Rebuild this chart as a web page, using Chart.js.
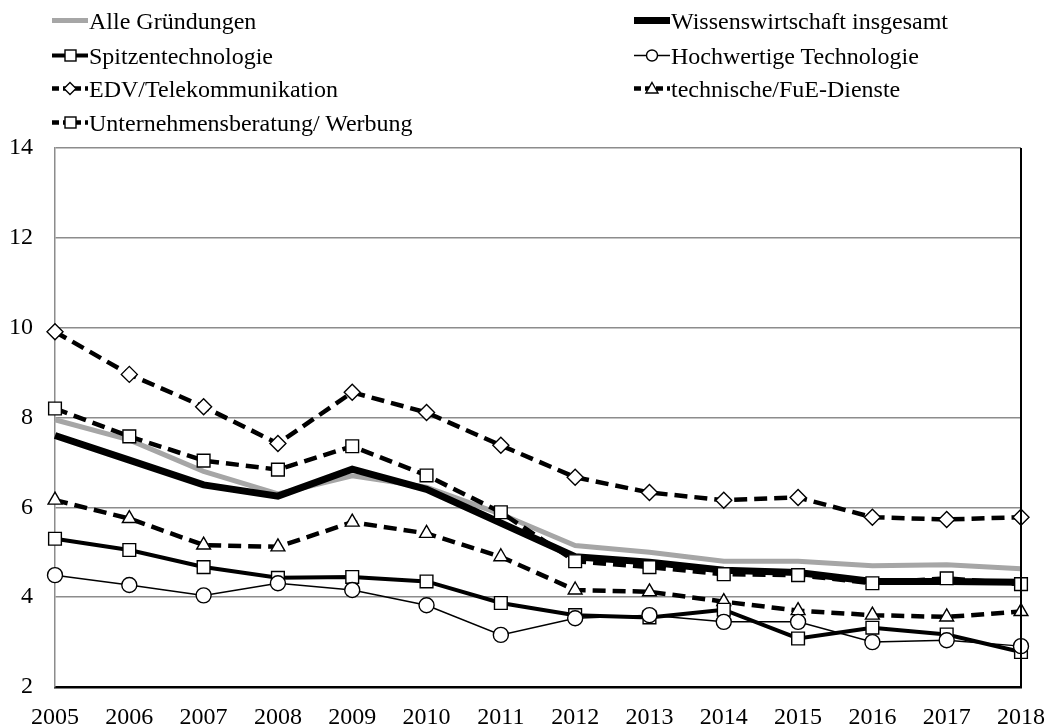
<!DOCTYPE html>
<html>
<head>
<meta charset="utf-8">
<script src="https://cdn.jsdelivr.net/npm/chart.js@4.4.0/dist/chart.umd.min.js"></script>
<style>
  html, body { margin: 0; padding: 0; background: #fff; }
  #wrap { position: relative; width: 1047px; height: 728px; font-family: "Liberation Serif", "Times New Roman", serif; }
  #c { position: absolute; left: 0; top: 0; }
  .leg { position: absolute; font-size: 24px; color: #000; white-space: nowrap; line-height: 26px; }
  .leg svg { position: absolute; top: 3px; }
  .leg span { position: absolute; top: 0; }
</style>
</head>
<body>
<div id="wrap">
  <canvas id="c" width="1047" height="728"></canvas>
  <div id="legend"></div>
</div>
<script>
// Jahre (x-Achse)
const years = ['2005','2006','2007','2008','2009','2010','2011','2012','2013','2014','2015','2016','2017','2018'];
const yTicks = [2, 4, 6, 8, 10, 12, 14];

// Werte
const alleGruendungen   = [7.95, 7.5, 6.8, 6.3, 6.7, 6.45, 5.85, 5.15, 5.0, 4.8, 4.8, 4.7, 4.72, 4.63];
const wissenswirtschaft = [7.6, 7.05, 6.5, 6.25, 6.85, 6.4, 5.65, 4.9, 4.78, 4.6, 4.55, 4.35, 4.35, 4.33];
const spitzentech       = [5.3, 5.05, 4.67, 4.43, 4.45, 4.35, 3.87, 3.6, 3.55, 3.72, 3.08, 3.32, 3.17, 2.78];
const hochwertigeTech   = [4.49, 4.27, 4.04, 4.31, 4.16, 3.82, 3.16, 3.53, 3.6, 3.45, 3.45, 3.0, 3.04, 2.91];
const edvTelekom        = [9.91, 8.96, 8.24, 7.42, 8.56, 8.11, 7.38, 6.67, 6.33, 6.16, 6.22, 5.78, 5.73, 5.78];
const technFuE          = [6.16, 5.75, 5.16, 5.12, 5.67, 5.42, 4.9, 4.16, 4.12, 3.9, 3.7, 3.6, 3.56, 3.68];
const beratungWerbung   = [8.2, 7.58, 7.04, 6.84, 7.36, 6.71, 5.89, 4.8, 4.67, 4.51, 4.49, 4.31, 4.42, 4.29];

const DASH = [13, 7];

// --- Legende als HTML ---
const legendItems = [
  { label: 'Alle Gründungen', col: 0, row: 0, color: '#a6a6a6', width: 5, dash: null, marker: null },
  { label: 'Wissenswirtschaft insgesamt', col: 1, row: 0, color: '#000', width: 7, dash: null, marker: null },
  { label: 'Spitzentechnologie', col: 0, row: 1, color: '#000', width: 4, dash: null, marker: 'rect' },
  { label: 'Hochwertige Technologie', col: 1, row: 1, color: '#000', width: 1.5, dash: null, marker: 'circle' },
  { label: 'EDV/Telekommunikation', col: 0, row: 2, color: '#000', width: 4.5, dash: '7 4', marker: 'diamond' },
  { label: 'technische/FuE-Dienste', col: 1, row: 2, color: '#000', width: 4.5, dash: '7 4', marker: 'triangle' },
  { label: 'Unternehmensberatung/ Werbung', col: 0, row: 3, color: '#000', width: 4.5, dash: '7 4', marker: 'rect' }
];

function markerSvg(m) {
  if (m === 'rect') return '<rect x="13" y="4" width="11" height="11" fill="#fff" stroke="#000" stroke-width="1.4"/>';
  if (m === 'circle') return '<circle cx="18" cy="9.5" r="5.5" fill="#fff" stroke="#000" stroke-width="1.4"/>';
  if (m === 'diamond') return '<polygon points="18,3.5 24,9.5 18,15.5 12,9.5" fill="#fff" stroke="#000" stroke-width="1.4"/>';
  if (m === 'triangle') return '<polygon points="18,3.5 24,14 12,14" fill="#fff" stroke="#000" stroke-width="1.4"/>';
  return '';
}

const legendEl = document.getElementById('legend');
const colX = [52, 634];
const rowY = [8, 43, 76, 110];
legendItems.forEach(it => {
  const d = document.createElement('div');
  d.className = 'leg';
  d.style.left = colX[it.col] + 'px';
  d.style.top = rowY[it.row] + 'px';
  const dash = it.dash ? ' stroke-dasharray="' + it.dash + '"' : '';
  d.innerHTML =
    '<svg width="36" height="19" style="left:0">' +
    '<line x1="0" y1="9.5" x2="36" y2="9.5" stroke="' + it.color + '" stroke-width="' + it.width + '"' + dash + '/>' +
    markerSvg(it.marker) + '</svg>' +
    '<span style="left:37px">' + it.label + '</span>';
  legendEl.appendChild(d);
});

// Rahmen rechts (schwarze Linie)
const rightBorder = {
  id: 'rightBorder',
  afterDraw(chart) {
    const a = chart.chartArea, ctx = chart.ctx;
    ctx.save();
    ctx.strokeStyle = '#000';
    ctx.lineWidth = 2;
    ctx.beginPath();
    ctx.moveTo(a.right, a.top);
    ctx.lineTo(a.right, a.bottom);
    ctx.stroke();
    ctx.restore();
  }
};

function ds(label, data, opts) {
  return Object.assign({
    label: label,
    data: data,
    borderColor: '#000',
    backgroundColor: '#fff',
    pointBackgroundColor: '#fff',
    pointBorderColor: '#000',
    pointBorderWidth: 1.4,
    pointRadius: 0,
    tension: 0,
    fill: false
  }, opts);
}

const ctx = document.getElementById('c').getContext('2d');
new Chart(ctx, {
  type: 'line',
  data: {
    labels: years,
    datasets: [
      ds('Hochwertige Technologie', hochwertigeTech, { borderWidth: 1.5, pointStyle: 'circle', pointRadius: 7.5 }),
      ds('Spitzentechnologie', spitzentech, { borderWidth: 4, pointStyle: 'rect', pointRadius: 9 }),
      ds('technische/FuE-Dienste', technFuE, { borderWidth: 4.5, borderDash: DASH, pointStyle: 'triangle', pointRadius: 8 }),
      ds('EDV/Telekommunikation', edvTelekom, { borderWidth: 4.5, borderDash: DASH, pointStyle: 'rectRot', pointRadius: 8 }),
      ds('Unternehmensberatung/ Werbung', beratungWerbung, { borderWidth: 4.5, borderDash: DASH, pointStyle: 'rect', pointRadius: 9 }),
      ds('Wissenswirtschaft insgesamt', wissenswirtschaft, { borderWidth: 7 }),
      ds('Alle Gründungen', alleGruendungen, { borderColor: '#a6a6a6', borderWidth: 5 })
    ]
  },
  options: {
    responsive: false,
    animation: false,
    layout: { padding: { top: 148, left: 0, right: 26, bottom: 0 } },
    plugins: { legend: { display: false }, tooltip: { enabled: false } },
    scales: {
      x: {
        offset: false,
        afterFit: axis => { axis.height = 41; axis.paddingLeft = 0; axis.paddingRight = 0; },
        grid: { display: false, drawTicks: false },
        border: { color: '#000', width: 2.5 },
        ticks: { color: '#000', font: { family: 'Liberation Serif', size: 24 }, padding: 16, maxRotation: 0, autoSkip: false }
      },
      y: {
        min: 2,
        max: 14,
        afterFit: axis => { axis.width = 55; },
        afterBuildTicks: axis => { axis.ticks = yTicks.map(v => ({ value: v })); },
        grid: { color: '#8c8c8c', lineWidth: 1.5, drawTicks: false },
        border: { color: '#8c8c8c', width: 1.5 },
        ticks: { color: '#000', font: { family: 'Liberation Serif', size: 24 }, padding: 22 }
      }
    }
  },
  plugins: [rightBorder]
});
</script>
</body>
</html>
